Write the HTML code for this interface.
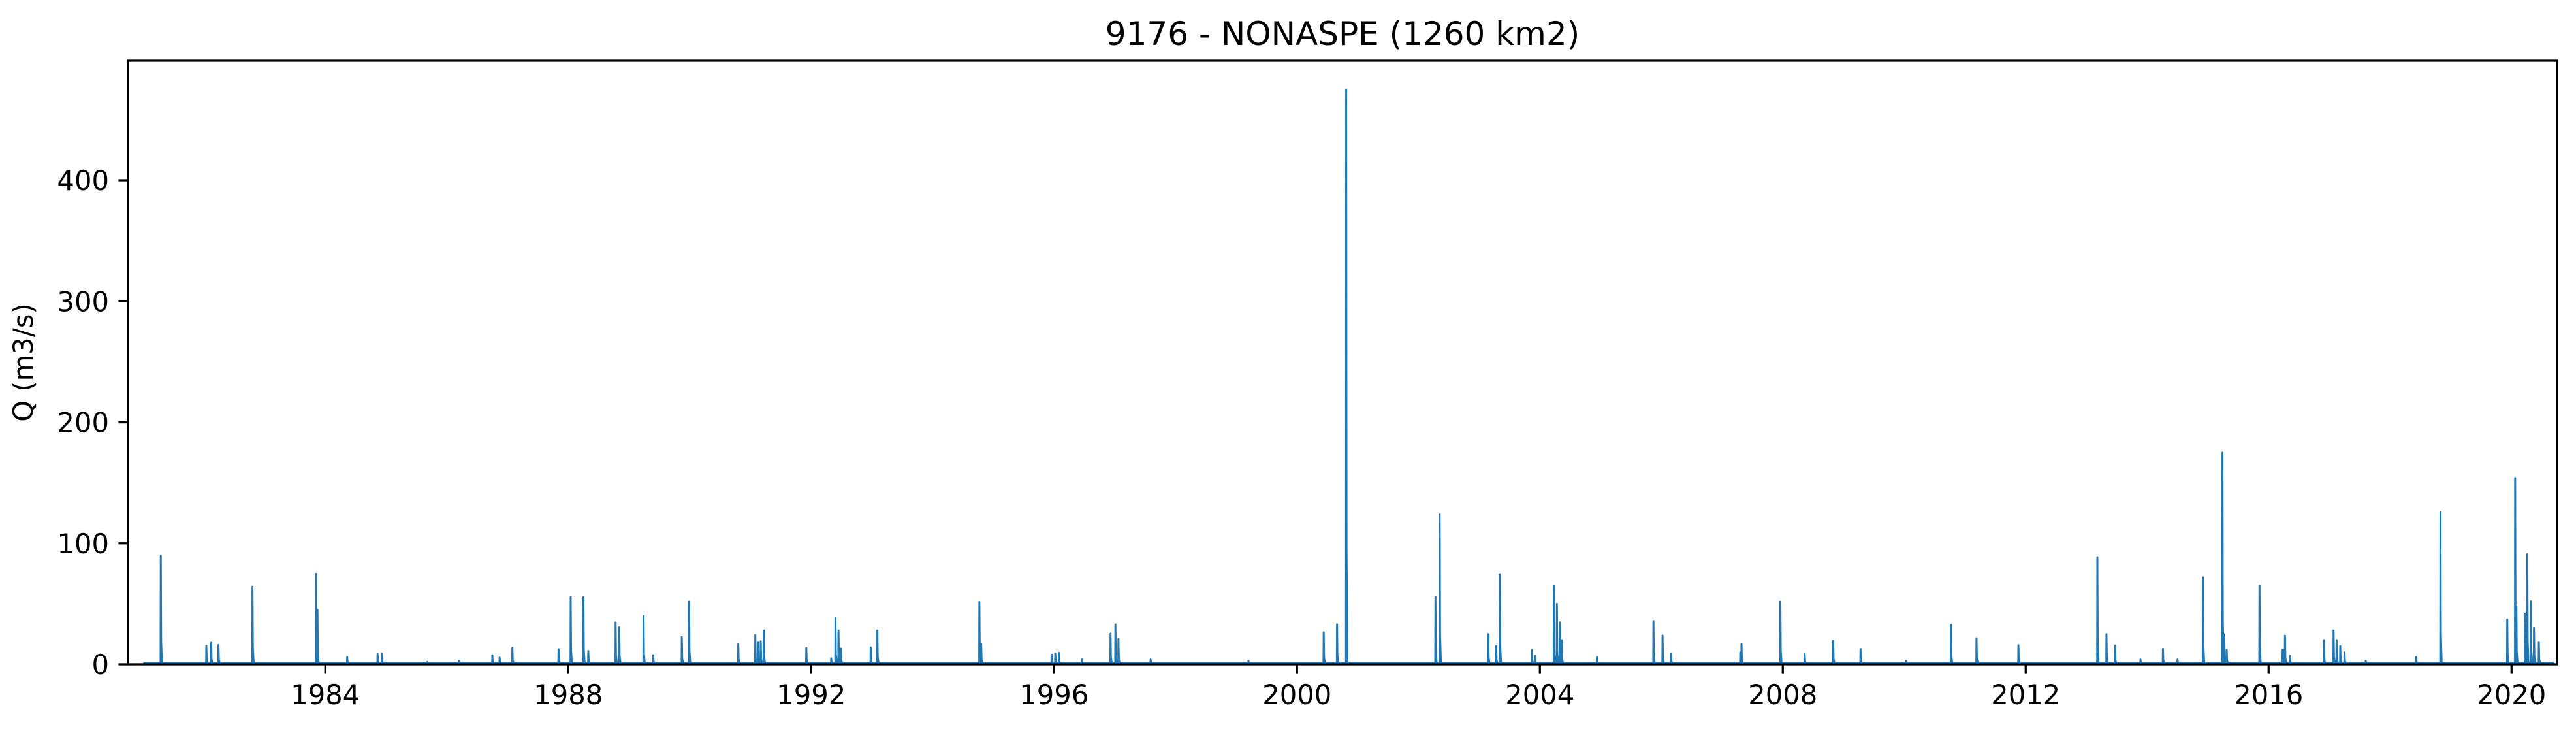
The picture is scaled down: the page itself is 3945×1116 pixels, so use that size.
<!DOCTYPE html>
<html>
<head>
<meta charset="utf-8">
<style>
  html,body{margin:0;padding:0;background:#fff;}
  svg{display:block;font-family:"DejaVu Sans","Liberation Sans",sans-serif;}
</style>
</head>
<body>
<svg id="chart" width="3945" height="1116" viewBox="0 0 3945 1116" xmlns="http://www.w3.org/2000/svg">
  <rect x="0" y="0" width="3945" height="1116" fill="#fff"/>
  <text x="2056" y="69" font-size="50" text-anchor="middle" fill="#000">9176 - NONASPE (1260 km2)</text>
  <text x="0" y="0" font-size="41.7" text-anchor="middle" fill="#000" transform="translate(50,555) rotate(-90)">Q (m3/s)</text>
  <g id="plot"></g>
  <g id="yaxis"></g>
  <g id="xaxis"></g>
  <rect x="196" y="93" width="3720" height="924" fill="none" stroke="#000" stroke-width="3.3"/>
</svg>
<script>
const peakYears = [
  1981.29,1982.04,1982.12,1982.24,1982.80,1983.85,1983.87,1984.36,1984.86,1984.93,1985.68,
  1986.20,1986.75,1986.87,1987.08,1987.84,1988.04,1988.25,1988.33,1988.78,1988.84,1989.24,
  1989.40,1989.87,1989.99,1990.80,1991.08,1991.13,1991.17,1991.22,1991.92,1992.33,1992.40,
  1992.45,1992.49,1992.98,1993.09,1994.77,1994.80,1995.96,1996.02,1996.08,1996.46,1996.93,
  1997.01,1997.06,1997.59,1999.20,2000.44,2000.66,2000.81,2002.28,2002.35,2003.15,2003.28,
  2003.34,2003.87,2003.92,2004.23,2004.28,2004.33,2004.36,2004.94,2005.87,2006.02,2006.16,
  2007.30,2007.32,2007.96,2008.36,2008.83,2009.28,2010.03,2010.77,2011.19,2011.88,2013.18,
  2013.33,2013.47,2013.89,2014.26,2014.50,2014.92,2015.24,2015.27,2015.31,2015.85,2016.22,
  2016.25,2016.27,2016.35,2016.91,2017.07,2017.12,2017.18,2017.25,2017.60,2018.43,2018.83,
  2019.93,2020.06,2020.08,2020.22,2020.26,2020.32,2020.37,2020.45
];
const peakValues = [
  89.6,15.3,17.8,16,64.2,74.8,45,6,8.6,9,2,
  3,7.5,5.5,13.6,12.5,55.5,55.5,11,34.7,30.5,40,
  7.5,22.6,51.8,17,24.3,18,19,28,13.5,5,38.5,
  28,13,14,28,51.5,17,8,9,9.5,4,25.4,
  33,21,4,3,26.5,33,475,55.6,123.8,25,15,
  74.5,11.8,7,64.8,50,34.7,20,6,35.8,23.8,8.8,
  10,16.7,51.8,8.5,19.4,12.6,3,32.5,21.6,15.8,88.5,
  25,15.5,4,12.7,4,71.8,175,25,12,65,12,
  12,23.7,7,20,28,20,15,10,3,6,125.8,
  37,154,48,42,91,52,30,18
];
const baseFlow = 1;
const yTicks = [0,100,200,300,400];
const xTicks = [1984,1988,1992,1996,2000,2004,2008,2012,2016,2020];

const NS = "http://www.w3.org/2000/svg";
const X0 = 196, X1 = 3916, Y0 = 1017, Y1 = 93;
const xMin = 1980.75, xMax = 2020.75, yMin = 0, yMax = 498.8;
function xs(t){ return X0 + (t - xMin) / (xMax - xMin) * (X1 - X0); }
function ys(v){ return Y0 - (v - yMin) / (yMax - yMin) * (Y0 - Y1); }

// y axis
const yaxis = document.getElementById('yaxis');
yTicks.forEach(v => {
  const l = document.createElementNS(NS,'line');
  l.setAttribute('x1', X0 - 14.6); l.setAttribute('x2', X0);
  l.setAttribute('y1', ys(v)); l.setAttribute('y2', ys(v));
  l.setAttribute('stroke','#000'); l.setAttribute('stroke-width','3.3');
  
  
  yaxis.appendChild(l);
  const t = document.createElementNS(NS,'text');
  t.setAttribute('x', X0 - 29); t.setAttribute('y', ys(v) + 15);
  t.setAttribute('font-size','41.7'); t.setAttribute('text-anchor','end');
  t.textContent = v;
  
  
  yaxis.appendChild(t);
});
// x axis
const xaxis = document.getElementById('xaxis');
xTicks.forEach(v => {
  const l = document.createElementNS(NS,'line');
  l.setAttribute('x1', xs(v)); l.setAttribute('x2', xs(v));
  l.setAttribute('y1', Y0); l.setAttribute('y2', Y0 + 14.6);
  l.setAttribute('stroke','#000'); l.setAttribute('stroke-width','3.3');
  
  
  xaxis.appendChild(l);
  const t = document.createElementNS(NS,'text');
  t.setAttribute('x', xs(v)); t.setAttribute('y', 1078);
  t.setAttribute('font-size','41.7'); t.setAttribute('text-anchor','middle');
  t.textContent = v;
  
  
  xaxis.appendChild(t);
});
// series
let d = 'M' + xs(1981.0) + ',' + ys(baseFlow);
for (let i = 0; i < peakYears.length; i++) {
  const t = peakYears[i], v = peakValues[i];
  d += ' L' + xs(t - 0.003) + ',' + ys(baseFlow);
  d += ' L' + xs(t) + ',' + ys(v);
  d += ' L' + xs(t + 0.006) + ',' + ys(baseFlow + (v - baseFlow) * 0.2);
  d += ' L' + xs(t + 0.02) + ',' + ys(baseFlow);
}
d += ' L' + xs(2020.7) + ',' + ys(baseFlow);
const p = document.createElementNS(NS,'path');
p.setAttribute('d', d);
p.setAttribute('fill','none'); p.setAttribute('stroke','#1f77b4');
p.setAttribute('stroke-width','3'); p.setAttribute('stroke-linejoin','round');


document.getElementById('plot').appendChild(p);
</script>
</body>
</html>
